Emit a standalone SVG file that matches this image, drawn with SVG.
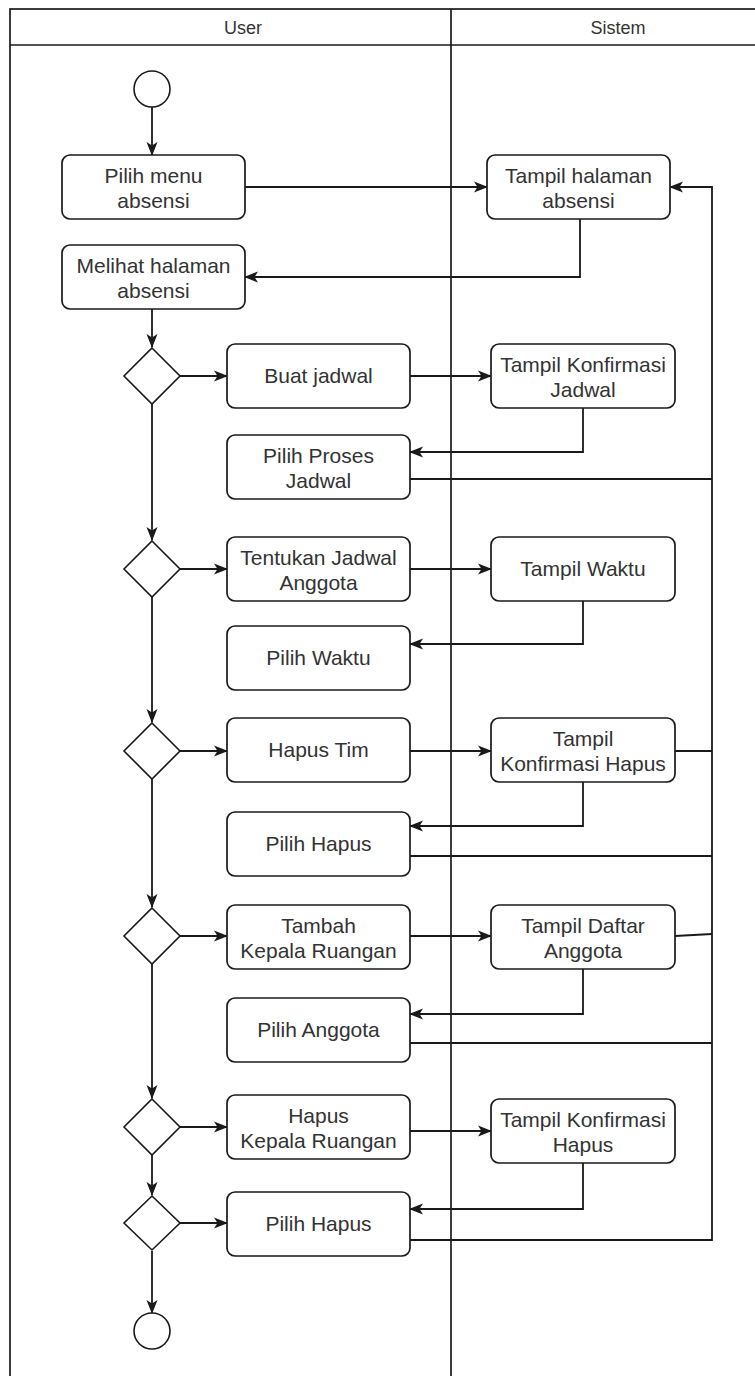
<svg xmlns="http://www.w3.org/2000/svg" width="755" height="1376" viewBox="0 0 755 1376">
  <style>
    .lane { fill: none; stroke: #1a1a1a; stroke-width: 1.7; }
    .box { fill: #ffffff; stroke: #1a1a1a; stroke-width: 1.7; }
    .node { fill: #ffffff; stroke: #1a1a1a; stroke-width: 1.6; }
    .edge { fill: none; stroke: #1a1a1a; stroke-width: 1.8; }
    .arrow { marker-end: url(#head); }
    text { font-family: "Liberation Sans", Arial, sans-serif; fill: #333333; text-anchor: middle; }
    .label { font-size: 21px; }
    .hdr { font-size: 18px; }
  </style>
  <defs>
    <marker id="head" markerUnits="userSpaceOnUse" markerWidth="14" markerHeight="14" viewBox="0 0 14 14" refX="13" refY="7" orient="auto">
      <path d="M0,1.5 L14,7 L0,12.5 L3.5,7 z" fill="#1a1a1a"/>
    </marker>
  </defs>
  <rect width="755" height="1376" fill="#ffffff"/>

  <!-- swimlanes -->
  <g id="lanes">
    <rect class="lane" x="10" y="9" width="770" height="1390"/>
    <line class="lane" x1="10" y1="45" x2="760" y2="45"/>
    <line class="lane" x1="451" y1="9" x2="451" y2="1376"/>
    <text class="hdr" x="243" y="34">User</text>
    <text class="hdr" x="618" y="34">Sistem</text>
  </g>

  <!-- connectors -->
  <g id="connectors">
    <path class="edge arrow" d="M152,107 V155"/>
    <path class="edge arrow" d="M245,187 H487"/>
    <path class="edge arrow" d="M580,219 V277 H245"/>
    <path class="edge arrow" d="M152,309 V347"/>
    <path class="edge arrow" d="M180,376 H227"/>
    <path class="edge arrow" d="M410,376 H491"/>
    <path class="edge arrow" d="M583,408 V452 H410"/>
    <path class="edge" d="M410,479 H712"/>
    <path class="edge arrow" d="M152,404 V540"/>
    <path class="edge arrow" d="M180,569 H227"/>
    <path class="edge arrow" d="M410,569 H491"/>
    <path class="edge arrow" d="M583,601 V644 H410"/>
    <path class="edge arrow" d="M152,597 V722"/>
    <path class="edge arrow" d="M180,751 H227"/>
    <path class="edge arrow" d="M410,751 H491"/>
    <path class="edge" d="M675,751 H712"/>
    <path class="edge arrow" d="M583,782 V826 H410"/>
    <path class="edge" d="M410,856 H712"/>
    <path class="edge arrow" d="M152,779 V907"/>
    <path class="edge arrow" d="M180,936 H227"/>
    <path class="edge arrow" d="M410,936 H491"/>
    <path class="edge" d="M675,936 L712,934"/>
    <path class="edge arrow" d="M583,969 V1014 H410"/>
    <path class="edge" d="M410,1043 H712"/>
    <path class="edge arrow" d="M152,964 V1098"/>
    <path class="edge arrow" d="M180,1127 H227"/>
    <path class="edge arrow" d="M410,1131 H491"/>
    <path class="edge arrow" d="M583,1163 V1209 H410"/>
    <path class="edge arrow" d="M152,1155 V1195"/>
    <path class="edge arrow" d="M180,1223 H227"/>
    <path class="edge arrow" d="M410,1240 H712 V187 H670"/>
    <path class="edge arrow" d="M152,1251 V1313"/>
  </g>

  <!-- start / end -->
  <g id="start"><circle class="node" cx="152" cy="89" r="18"/></g>
  <g id="end"><circle class="node" cx="152" cy="1331" r="18"/></g>

  <!-- decisions -->
  <g id="decision1"><polygon class="node" points="152,348 180,376 152,404 124,376"/></g>
  <g id="decision2"><polygon class="node" points="152,541 180,569 152,597 124,569"/></g>
  <g id="decision3"><polygon class="node" points="152,723 180,751 152,779 124,751"/></g>
  <g id="decision4"><polygon class="node" points="152,908 180,936 152,964 124,936"/></g>
  <g id="decision5"><polygon class="node" points="152,1099 180,1127 152,1155 124,1127"/></g>
  <g id="decision6"><polygon class="node" points="152,1196 180,1223 152,1250 124,1223"/></g>

  <!-- user actions -->
  <g id="pilih-menu">
    <rect class="box" x="62" y="155" width="183" height="64" rx="8"/>
    <text class="label" x="153.5" y="183">Pilih menu</text>
    <text class="label" x="153.5" y="208">absensi</text>
  </g>
  <g id="melihat-halaman">
    <rect class="box" x="62" y="245" width="183" height="64" rx="8"/>
    <text class="label" x="153.5" y="273">Melihat halaman</text>
    <text class="label" x="153.5" y="298">absensi</text>
  </g>
  <g id="buat-jadwal">
    <rect class="box" x="227" y="344" width="183" height="64" rx="8"/>
    <text class="label" x="318.5" y="383">Buat jadwal</text>
  </g>
  <g id="pilih-proses-jadwal">
    <rect class="box" x="227" y="435" width="183" height="64" rx="8"/>
    <text class="label" x="318.5" y="463">Pilih Proses</text>
    <text class="label" x="318.5" y="488">Jadwal</text>
  </g>
  <g id="tentukan-jadwal">
    <rect class="box" x="227" y="537" width="183" height="64" rx="8"/>
    <text class="label" x="318.5" y="565">Tentukan Jadwal</text>
    <text class="label" x="318.5" y="590">Anggota</text>
  </g>
  <g id="pilih-waktu">
    <rect class="box" x="227" y="626" width="183" height="64" rx="8"/>
    <text class="label" x="318.5" y="665">Pilih Waktu</text>
  </g>
  <g id="hapus-tim">
    <rect class="box" x="227" y="718" width="183" height="64" rx="8"/>
    <text class="label" x="318.5" y="757">Hapus Tim</text>
  </g>
  <g id="pilih-hapus-1">
    <rect class="box" x="227" y="812" width="183" height="64" rx="8"/>
    <text class="label" x="318.5" y="851">Pilih Hapus</text>
  </g>
  <g id="tambah-kepala">
    <rect class="box" x="227" y="905" width="183" height="64" rx="8"/>
    <text class="label" x="318.5" y="933">Tambah</text>
    <text class="label" x="318.5" y="958">Kepala Ruangan</text>
  </g>
  <g id="pilih-anggota">
    <rect class="box" x="227" y="998" width="183" height="64" rx="8"/>
    <text class="label" x="318.5" y="1037">Pilih Anggota</text>
  </g>
  <g id="hapus-kepala">
    <rect class="box" x="227" y="1095" width="183" height="64" rx="8"/>
    <text class="label" x="318.5" y="1123">Hapus</text>
    <text class="label" x="318.5" y="1148">Kepala Ruangan</text>
  </g>
  <g id="pilih-hapus-2">
    <rect class="box" x="227" y="1192" width="183" height="64" rx="8"/>
    <text class="label" x="318.5" y="1231">Pilih Hapus</text>
  </g>

  <!-- system responses -->
  <g id="tampil-halaman">
    <rect class="box" x="487" y="155" width="183" height="64" rx="8"/>
    <text class="label" x="578.5" y="183">Tampil halaman</text>
    <text class="label" x="578.5" y="208">absensi</text>
  </g>
  <g id="tampil-konfirmasi-jadwal">
    <rect class="box" x="491" y="344" width="184" height="64" rx="8"/>
    <text class="label" x="583" y="372">Tampil Konfirmasi</text>
    <text class="label" x="583" y="397">Jadwal</text>
  </g>
  <g id="tampil-waktu">
    <rect class="box" x="491" y="537" width="184" height="64" rx="8"/>
    <text class="label" x="583" y="576">Tampil Waktu</text>
  </g>
  <g id="tampil-konfirmasi-hapus-1">
    <rect class="box" x="491" y="718" width="184" height="64" rx="8"/>
    <text class="label" x="583" y="746">Tampil</text>
    <text class="label" x="583" y="771">Konfirmasi Hapus</text>
  </g>
  <g id="tampil-daftar-anggota">
    <rect class="box" x="491" y="905" width="184" height="64" rx="8"/>
    <text class="label" x="583" y="933">Tampil Daftar</text>
    <text class="label" x="583" y="958">Anggota</text>
  </g>
  <g id="tampil-konfirmasi-hapus-2">
    <rect class="box" x="491" y="1099" width="184" height="64" rx="8"/>
    <text class="label" x="583" y="1127">Tampil Konfirmasi</text>
    <text class="label" x="583" y="1152">Hapus</text>
  </g>
</svg>
